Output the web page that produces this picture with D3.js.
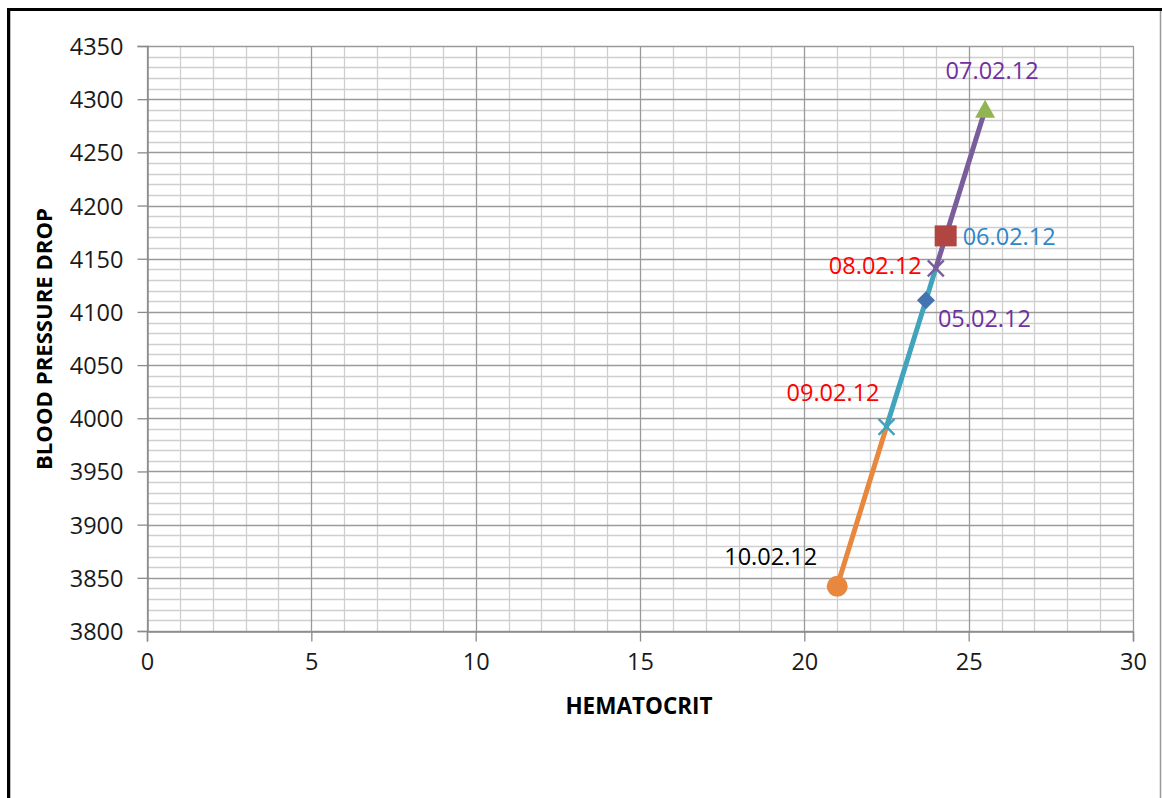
<!DOCTYPE html>
<html>
<head>
<meta charset="utf-8">
<script src="https://cdn.jsdelivr.net/npm/d3@7"></script>
<style>
  html, body { margin: 0; padding: 0; background: #fff; }
  svg { display: block; }
  text { font-family: "Open Sans", "Liberation Sans", sans-serif; }
</style>
</head>
<body>
<svg id="chart" width="1162" height="798"></svg>
<script>
// ---- data ----
const dates = ["05.02.12", "06.02.12", "07.02.12", "08.02.12", "09.02.12", "10.02.12"];
const hematocrit = [23.7, 24.3, 25.5, 24.0, 22.5, 21.0];
const pressureDrop = [4111, 4171, 4290, 4141, 3992, 3842];
const markerTypes = ["diamond", "square", "triangle", "x", "x", "circle"];
const markerColors = ["#4374b0", "#b04542", "#93b452", "#7a5e9c", "#42a4bc", "#e8873e"];
const labelColors = ["#7030a0", "#2e86c8", "#7030a0", "#ff0000", "#ff0000", "#000000"];
const labelPos = ["below-right", "right", "above", "left", "above-left", "above-left2"];
// connecting segments (indices into the arrays above)
const segments = [[5, 4], [4, 0, 3], [3, 1, 2]];
const segmentColors = ["#e8873e", "#42a4bc", "#7a5e9c"];
const xTicks = [0, 5, 10, 15, 20, 25, 30];
const yTicks = [3800, 3850, 3900, 3950, 4000, 4050, 4100, 4150, 4200, 4250, 4300, 4350];

const svg = d3.select("#chart");

// outer frame
svg.append("line").attr("x1", 8.5).attr("x2", 1162).attr("y1", 9.5).attr("y2", 9.5)
  .attr("stroke", "#000").attr("stroke-width", 3);
svg.append("line").attr("x1", 8.5).attr("x2", 8.5).attr("y1", 8).attr("y2", 798)
  .attr("stroke", "#000").attr("stroke-width", 3);
svg.append("line").attr("x1", 10.5).attr("x2", 10.5).attr("y1", 11).attr("y2", 798)
  .attr("stroke", "#bbb").attr("stroke-width", 1);
svg.append("line").attr("x1", 1160.5).attr("x2", 1160.5).attr("y1", 11).attr("y2", 798)
  .attr("stroke", "#999").attr("stroke-width", 1.5);

const L = 147, R = 1133, T = 46, B = 631;
const x = d3.scaleLinear().domain([0, 30]).range([L, R]);
const y = d3.scaleLinear().domain([3800, 4350]).range([B, T]);

const g = svg.append("g");

// minor grid
const minorX = d3.range(0, 31, 1).filter(v => v % 5 !== 0);
const minorY = d3.range(3800, 4351, 10).filter(v => v % 50 !== 0);
g.selectAll(".mx").data(minorX).enter().append("line")
  .attr("x1", d => Math.round(x(d)) + 0.5).attr("x2", d => Math.round(x(d)) + 0.5)
  .attr("y1", T).attr("y2", B).attr("stroke", "#cfcfcf").attr("stroke-width", 1.3);
g.selectAll(".my").data(minorY).enter().append("line")
  .attr("x1", L).attr("x2", R)
  .attr("y1", d => Math.round(y(d)) + 0.5).attr("y2", d => Math.round(y(d)) + 0.5)
  .attr("stroke", "#cfcfcf").attr("stroke-width", 1.3);
// major grid
g.selectAll(".Mx").data(xTicks).enter().append("line")
  .attr("x1", d => Math.round(x(d)) + 0.5).attr("x2", d => Math.round(x(d)) + 0.5)
  .attr("y1", T).attr("y2", B).attr("stroke", "#9a9a9a").attr("stroke-width", 1.3);
g.selectAll(".My").data(yTicks).enter().append("line")
  .attr("x1", L).attr("x2", R)
  .attr("y1", d => Math.round(y(d)) + 0.5).attr("y2", d => Math.round(y(d)) + 0.5)
  .attr("stroke", "#9a9a9a").attr("stroke-width", 1.3);

// axes
const xAxis = d3.axisBottom(x).tickValues(xTicks).tickSize(10).tickPadding(7).tickFormat(d3.format("d"));
const yAxis = d3.axisLeft(y).tickValues(yTicks).tickSize(10).tickPadding(14).tickFormat(d3.format("d"));
const gx = svg.append("g").attr("transform", `translate(0,${Math.round(y(3800)) + 0.5})`).call(xAxis);
const gy = svg.append("g").attr("transform", `translate(${Math.round(x(0)) + 0.5},0)`).call(yAxis);
[gx, gy].forEach(a => {
  a.select(".domain").attr("stroke", "#8a8a8a").attr("stroke-width", 1.5);
  a.selectAll(".tick line").attr("stroke", "#8a8a8a").attr("stroke-width", 1.3);
  a.selectAll(".tick text").attr("fill", "#1a1a1a")
    .style("font-family", "'Open Sans', sans-serif").style("font-size", "23.5px");
});
gx.selectAll(".tick text").attr("dy", "0.9em");
gy.selectAll(".tick text").attr("dy", "0.36em");

// axis titles
svg.append("text").attr("x", 639).attr("y", 714).attr("text-anchor", "middle")
  .style("font-size", "22.5px").style("font-weight", "bold").attr("fill", "#000")
  .text("HEMATOCRIT");
svg.append("text").attr("transform", "translate(52,339) rotate(-90)").attr("text-anchor", "middle")
  .style("font-size", "22px").style("font-weight", "bold").attr("fill", "#000")
  .attr("textLength", 262).attr("lengthAdjust", "spacingAndGlyphs")
  .text("BLOOD PRESSURE DROP");

// lines
const line = d3.line().x(i => x(hematocrit[i])).y(i => y(pressureDrop[i]));
svg.selectAll(".seg").data(segments).enter().append("path")
  .attr("d", d => line(d)).attr("fill", "none")
  .attr("stroke", (d, i) => segmentColors[i]).attr("stroke-width", 5)
  .attr("stroke-linecap", "round");

// markers
const pts = dates.map((d, i) => ({ i, cx: x(hematocrit[i]), cy: y(pressureDrop[i]) }));
const mk = svg.append("g");
pts.forEach(p => {
  const t = markerTypes[p.i], c = markerColors[p.i];
  const gg = mk.append("g").attr("transform", `translate(${p.cx},${p.cy})`);
  if (t === "diamond") {
    gg.append("path").attr("d", "M0,-9L9,0L0,9L-9,0Z").attr("fill", c);
  } else if (t === "square") {
    gg.append("rect").attr("x", -11).attr("y", -11).attr("width", 22).attr("height", 21).attr("fill", c);
  } else if (t === "triangle") {
    gg.append("path").attr("d", "M0,-10L10,8L-10,8Z").attr("fill", c);
  } else if (t === "circle") {
    gg.append("circle").attr("r", 10.5).attr("fill", c);
  } else if (t === "x") {
    gg.append("path").attr("d", "M-8,-8L8,8M-8,8L8,-8").attr("stroke", c).attr("stroke-width", 2.4).attr("fill", "none");
  }
});

// labels
const lab = svg.append("g");
pts.forEach(p => {
  const pos = labelPos[p.i];
  let dx = 0, dy = 0, anchor = "start";
  if (pos === "right") { dx = 17; dy = 9; anchor = "start"; }
  else if (pos === "left") { dx = -14; dy = 6; anchor = "end"; }
  else if (pos === "above") { dx = 7; dy = -31; anchor = "middle"; }
  else if (pos === "below-right") { dx = 12; dy = 27; anchor = "start"; }
  else if (pos === "above-left") { dx = -7; dy = -26; anchor = "end"; }
  else if (pos === "above-left2") { dx = -20; dy = -21; anchor = "end"; }
  lab.append("text").attr("x", p.cx + dx).attr("y", p.cy + dy).attr("text-anchor", anchor)
    .style("font-size", "23.5px").attr("fill", labelColors[p.i]).text(dates[p.i]);
});
</script>
</body>
</html>
